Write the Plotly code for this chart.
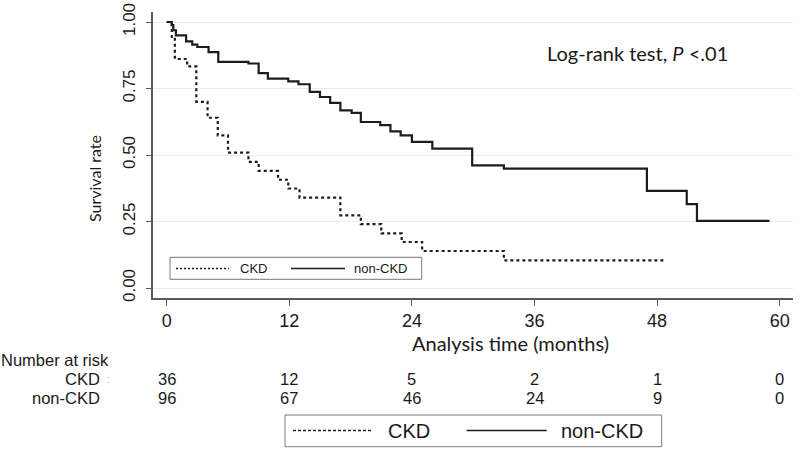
import plotly.graph_objects as go

# ---- data ----
ckd_t = [0, 0.5, 0.8, 2.0, 2.9, 4.0, 5.0, 6.0, 8.0, 9.0, 10.9, 11.9, 13.0,
         17.0, 19.0, 21.0, 23.0, 25.0, 33.0, 48.9]
ckd_s = [1.0, 0.944, 0.861, 0.833, 0.70, 0.64, 0.574, 0.509, 0.474, 0.44,
         0.407, 0.374, 0.34, 0.273, 0.24, 0.205, 0.173, 0.139, 0.104, 0.104]

non_t = [0, 0.5, 0.65, 0.9, 1.9, 2.5, 3.0, 4.1, 5.05, 8.0, 9.0, 9.9, 11.9,
         12.9, 14.0, 15.0, 16.0, 17.0, 18.1, 19.0, 20.9, 21.9, 22.9, 24.0,
         26.0, 29.9, 33.0, 47.0, 50.9, 51.9, 59.0]
non_s = [1.0, 0.988, 0.969, 0.95, 0.927, 0.915, 0.906, 0.887, 0.85, 0.844,
         0.808, 0.787, 0.777, 0.766, 0.737, 0.718, 0.696, 0.668, 0.658,
         0.624, 0.612, 0.589, 0.574, 0.549, 0.524, 0.461, 0.449, 0.365,
         0.315, 0.252, 0.252]

x_ticks = [0, 12, 24, 36, 48, 60]
y_ticks = [0, 0.25, 0.5, 0.75, 1.0]
y_ticktext = ["0.00", "0.25", "0.50", "0.75", "1.00"]
risk_ckd = [36, 12, 5, 2, 1, 0]
risk_non = [96, 67, 46, 24, 9, 0]

# ---- layout geometry ----
W, H = 800, 451
L, R, T, B = 153, 7, 12, 153
PW, PH = W - L - R, H - T - B


def px(xp):
    return (xp - L) / PW


def py(yp):
    return (H - B - yp) / PH


LINE = "#1c1c1c"
AX = "#5a5a5a"
TXT = "#1a1a1a"
ARIAL = "Liberation Sans, Arial, sans-serif"
CAL = "Lato, Carlito, Calibri, sans-serif"

fig = go.Figure()
fig.add_trace(go.Scatter(x=ckd_t, y=ckd_s, mode="lines", line_shape="hv",
                         line=dict(color=LINE, width=2.2, dash="3px,3px"),
                         name="CKD", showlegend=False))
fig.add_trace(go.Scatter(x=non_t, y=non_s, mode="lines", line_shape="hv",
                         line=dict(color=LINE, width=2.2),
                         name="non-CKD", showlegend=False))

shapes = []
ann = []

# inner legend
shapes.append(dict(type="rect", xref="paper", yref="paper",
                   x0=px(170), x1=px(421.7), y0=py(279.3), y1=py(257.3),
                   line=dict(color="#7a7a7a", width=1)))
shapes.append(dict(type="line", xref="paper", yref="paper",
                   x0=px(176), x1=px(229), y0=py(268.5), y1=py(268.5),
                   line=dict(color=LINE, width=1.5, dash="2px,2px")))
shapes.append(dict(type="line", xref="paper", yref="paper",
                   x0=px(291), x1=px(345), y0=py(268.5), y1=py(268.5),
                   line=dict(color=LINE, width=1.5)))
ann.append(dict(text="CKD", xref="paper", yref="paper", x=px(238), y=py(268.5),
                xanchor="left", yanchor="middle", showarrow=False,
                font=dict(family=ARIAL, size=13, color=TXT)))
ann.append(dict(text="non-CKD", xref="paper", yref="paper", x=px(352), y=py(268.5),
                xanchor="left", yanchor="middle", showarrow=False,
                font=dict(family=ARIAL, size=13, color=TXT)))

# bottom legend
shapes.append(dict(type="rect", xref="paper", yref="paper",
                   x0=px(285), x1=px(661.7), y0=py(446.7), y1=py(415),
                   line=dict(color="#7a7a7a", width=1)))
shapes.append(dict(type="line", xref="paper", yref="paper",
                   x0=px(293), x1=px(372), y0=py(430.5), y1=py(430.5),
                   line=dict(color=LINE, width=1.5, dash="3px,2px")))
shapes.append(dict(type="line", xref="paper", yref="paper",
                   x0=px(466.7), x1=px(546.7), y0=py(430.5), y1=py(430.5),
                   line=dict(color=LINE, width=1.5)))
ann.append(dict(text="CKD", xref="paper", yref="paper", x=px(386), y=py(430.5),
                xanchor="left", yanchor="middle", showarrow=False,
                font=dict(family=ARIAL, size=20, color=TXT)))
ann.append(dict(text="non-CKD", xref="paper", yref="paper", x=px(559), y=py(430.5),
                xanchor="left", yanchor="middle", showarrow=False,
                font=dict(family=ARIAL, size=20, color=TXT)))

# log-rank text
ann.append(dict(text="Log-rank test, <i>P</i> <.01", xref="paper", yref="paper",
                x=px(637), y=py(53), xanchor="center", yanchor="middle",
                showarrow=False, font=dict(family=CAL, size=20, color=TXT)))

# axis titles
ann.append(dict(text="Survival rate", xref="paper", yref="paper",
                x=px(94), y=py(179), xanchor="center", yanchor="middle",
                textangle=-90, showarrow=False,
                font=dict(family=CAL, size=16, color=TXT)))
ann.append(dict(text="Analysis time (months)", xref="paper", yref="paper",
                x=px(510), y=py(343), xanchor="center", yanchor="middle",
                showarrow=False, font=dict(family=CAL, size=20, color=TXT)))

# number at risk table
RF = 16.5
ann.append(dict(text="Number at risk", xref="paper", yref="paper",
                x=px(0), y=py(360), xanchor="left", yanchor="middle",
                borderpad=0, showarrow=False,
                font=dict(family=ARIAL, size=RF, color=TXT)))
ann.append(dict(text="CKD", xref="paper", yref="paper",
                x=px(101), y=py(379), xanchor="right", yanchor="middle",
                borderpad=0, showarrow=False,
                font=dict(family=ARIAL, size=RF, color=TXT)))
ann.append(dict(text=":", xref="paper", yref="paper",
                x=px(108), y=py(379), xanchor="center", yanchor="middle",
                borderpad=0, showarrow=False,
                font=dict(family=ARIAL, size=10, color="#b0b0b0")))
ann.append(dict(text="non-CKD", xref="paper", yref="paper",
                x=px(101), y=py(398), xanchor="right", yanchor="middle",
                borderpad=0, showarrow=False,
                font=dict(family=ARIAL, size=RF, color=TXT)))
for t, a, b in zip(x_ticks, risk_ckd, risk_non):
    ann.append(dict(text=str(a), xref="x", yref="paper", x=t, y=py(379),
                    xanchor="center", yanchor="middle", borderpad=0,
                    showarrow=False, font=dict(family=ARIAL, size=RF, color=TXT)))
    ann.append(dict(text=str(b), xref="x", yref="paper", x=t, y=py(398),
                    xanchor="center", yanchor="middle", borderpad=0,
                    showarrow=False, font=dict(family=ARIAL, size=RF, color=TXT)))

fig.update_layout(
    width=W, height=H,
    margin=dict(l=L, r=R, t=T, b=B, autoexpand=False),
    paper_bgcolor="white", plot_bgcolor="white",
    showlegend=False,
    shapes=shapes, annotations=ann,
    xaxis=dict(range=[-1.34, 61.3], tickvals=x_ticks, ticks="outside",
               ticklen=6, tickwidth=1.2, tickcolor=AX, showline=True,
               linecolor=AX, linewidth=1.5, showgrid=False, zeroline=False,
               automargin=False,
               tickfont=dict(family=ARIAL, size=18, color=TXT)),
    yaxis=dict(range=[-0.0376, 1.0376], tickvals=y_ticks, ticktext=y_ticktext,
               tickangle=-90, ticks="outside", ticklen=5, tickwidth=1.2,
               tickcolor=AX, showline=True, linecolor=AX, linewidth=1.5,
               showgrid=True, gridcolor="#ebebeb", gridwidth=1.2,
               zeroline=False, ticklabelstandoff=4, automargin=False,
               tickfont=dict(family=ARIAL, size=17, color=TXT)),
)

fig.write_html(
    "out.html",
    config=dict(displayModeBar=False),
    post_script="document.body.style.margin='0';document.body.style.overflow='hidden';",
)
